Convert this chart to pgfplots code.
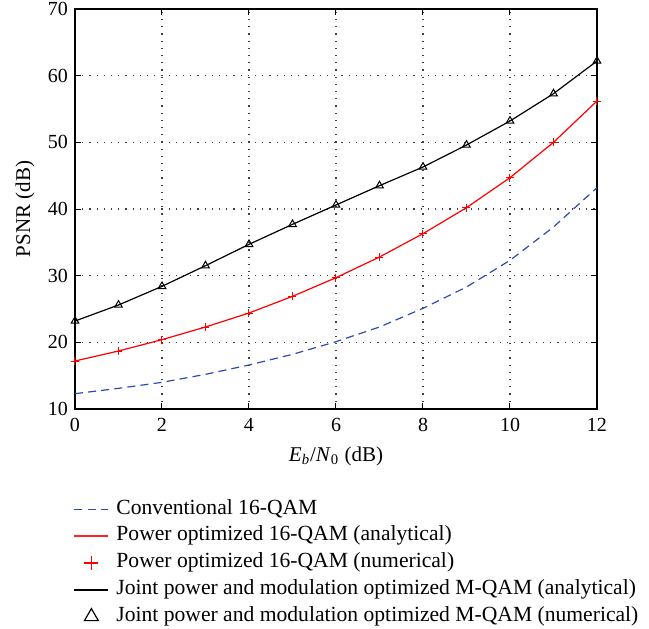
\documentclass[border=0pt]{standalone}
\usepackage{pgfplots}
\pgfplotsset{compat=1.18}
\usepackage{fontspec}
\setmainfont{Liberation Serif}
\definecolor{dblue}{RGB}{45,75,175}
\begin{document}
\begin{tikzpicture}
\path[use as bounding box] (-37.5pt,-109.5pt) rectangle (287pt,204.5pt);
\begin{axis}[
  at={(0,0)}, anchor=south west,
  scale only axis, width=261pt, height=200pt,
  xmin=0, xmax=12, ymin=10, ymax=70,
  xtick={0,2,...,12}, ytick={10,20,...,70},
  tick align=inside,
  major tick length=3pt,
  grid=major,
  major grid style={dash pattern=on 0.6pt off 3pt, black!75, line width=0.6pt},
  axis line style={line width=0.6pt},
  tick style={black, line width=0.5pt},
  tick label style={font=\fontsize{10}{11}\selectfont},
  xticklabel style={yshift=-1pt},
  /pgf/number format/assume math mode=true,
  xlabel={\textit{E}\textsubscript{\textit{b}}/\textit{N}\textsubscript{0} (dB)},
  ylabel={PSNR (dB)},
  label style={font=\fontsize{10.5}{11}\selectfont},
  xlabel style={at={(axis description cs:0.5,-0.1175)}, anchor=center},
  ylabel style={at={(axis description cs:-0.0958,0.5)}, anchor=center},
  legend cell align=left,
  legend style={at={(axis description cs:-0.004,-0.2165)}, anchor=north west,
    draw=none, fill=none, inner sep=0pt, row sep=0pt,
    font=\fontsize{10.8}{13.4}\selectfont,
    nodes={inner ysep=0pt, inner xsep=3.5pt, text height=9pt, text depth=4.4pt}},
]
\addplot[dblue, line width=0.6pt, dash pattern=on 4pt off 2.6pt, forget plot] coordinates {
(0,12.3) (1,13.1) (2,14.0) (3,15.2) (4,16.6) (5,18.2) (6,20.1) (7,22.3) (8,25.1) (9,28.3) (10,32.3) (11,37.3) (12,43.2)};
\addplot[color=red, line width=0.6pt, forget plot] coordinates {
(0,17.2) (1,18.7) (2,20.4) (3,22.3) (4,24.4) (5,26.9) (6,29.7) (7,32.8) (8,36.3) (9,40.2) (10,44.7) (11,50.0) (12,56.2)};
\addplot[color=red, only marks, mark=+, mark size=2pt, line width=0.5pt, forget plot] coordinates {
(0,17.2) (1,18.7) (2,20.4) (3,22.3) (4,24.4) (5,26.9) (6,29.7) (7,32.8) (8,36.3) (9,40.2) (10,44.7) (11,50.0) (12,56.2)};
\addplot[color=black, line width=0.6pt, forget plot] coordinates {
(0,23.2) (1,25.6) (2,28.4) (3,31.5) (4,34.7) (5,37.7) (6,40.6) (7,43.5) (8,46.3) (9,49.6) (10,53.2) (11,57.3) (12,62.2)};
\addplot[color=black, only marks, mark=triangle, mark size=2.2pt, line width=0.5pt, forget plot] coordinates {
(0,23.2) (1,25.6) (2,28.4) (3,31.5) (4,34.7) (5,37.7) (6,40.6) (7,43.5) (8,46.3) (9,49.6) (10,53.2) (11,57.3) (12,62.2)};
\addlegendimage{color=dblue, line width=0.8pt, dash pattern=on 4pt off 2.6pt}
\addlegendentry{Conventional 16-QAM}
\addlegendimage{color=red!85!white, line width=1pt}
\addlegendentry{Power optimized 16-QAM (analytical)}
\addlegendimage{color=red, only marks, mark=+, mark size=3.5pt, line width=0.8pt}
\addlegendentry{Power optimized 16-QAM (numerical)}
\addlegendimage{color=black, line width=0.7pt}
\addlegendentry{Joint power and modulation optimized M-QAM (analytical)}
\addlegendimage{color=black, only marks, mark=triangle, mark size=4pt, line width=0.6pt}
\addlegendentry{Joint power and modulation optimized M-QAM (numerical)}
\end{axis}
\end{tikzpicture}
\end{document}
